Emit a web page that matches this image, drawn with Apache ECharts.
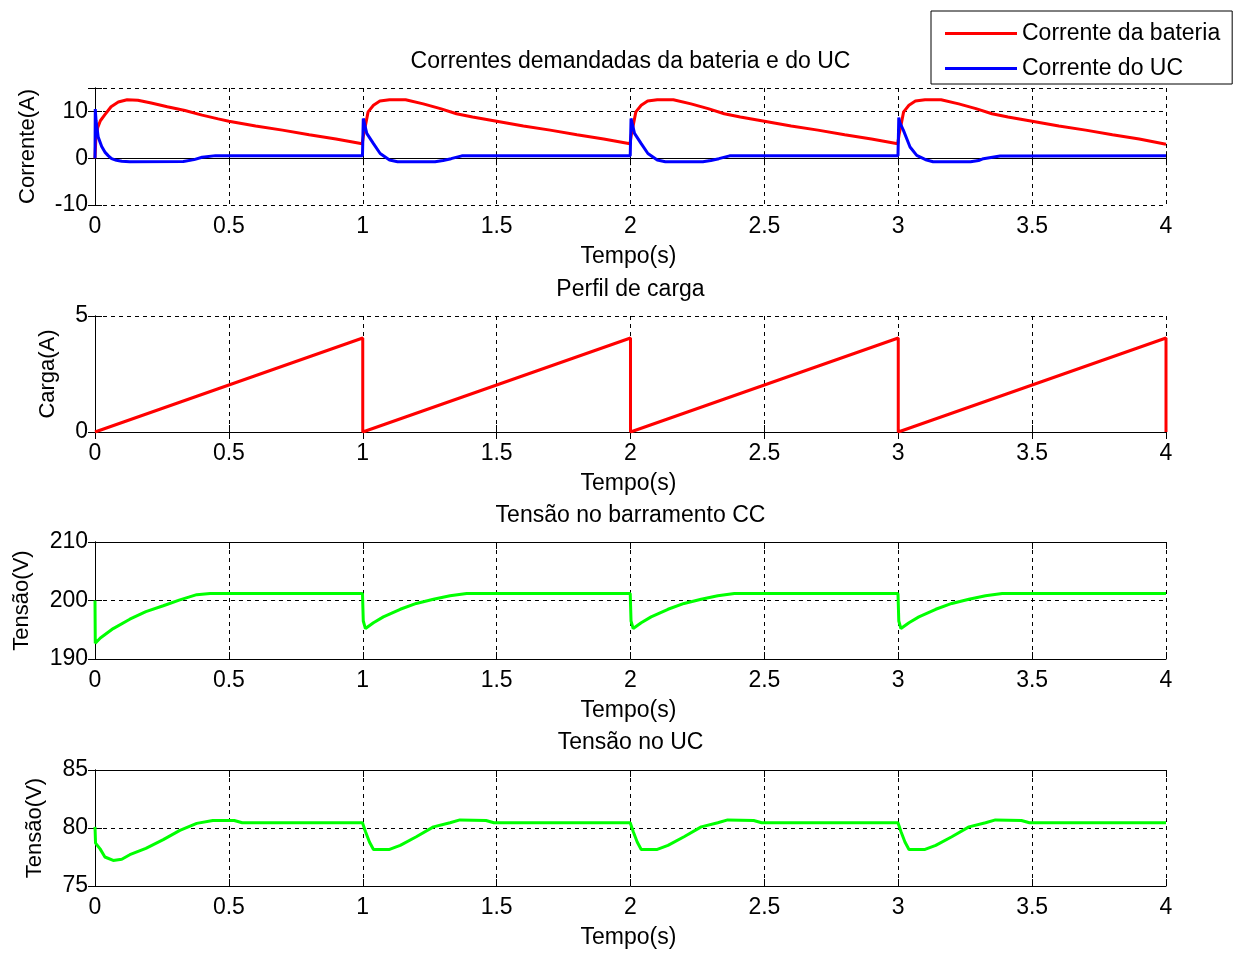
<!DOCTYPE html>
<html>
<head>
<meta charset="utf-8">
<script src="https://cdn.jsdelivr.net/npm/echarts@6/dist/echarts.min.js"></script>
<style>
  html, body { margin: 0; padding: 0; background: #ffffff; }
  #chart { width: 1240px; height: 953px; }
</style>
</head>
<body>
<div id="chart"></div>
<script>
// ---- Data: [time (s), value] pairs ----
const correnteBateria = [
  [0, 0], [0.003, 4.0], [0.01, 6.5], [0.02, 8.0], [0.037, 9.3], [0.06, 11.0], [0.087, 12.0], [0.12, 12.5],
  [0.16, 12.4], [0.21, 11.8], [0.27, 11.0], [0.336, 10.2], [0.4, 9.2], [0.46, 8.4], [0.5, 7.9], [0.6, 6.9],
  [0.7, 6.0], [0.8, 5.0], [0.9, 4.1], [0.998, 3.1],
  [1.003, 5.0], [1.009, 6.7], [1.02, 9.9], [1.04, 11.3], [1.064, 12.2], [1.1, 12.5], [1.16, 12.5],
  [1.226, 11.6], [1.29, 10.6], [1.35, 9.5], [1.41, 8.8], [1.5, 7.9], [1.6, 6.9], [1.7, 6.0], [1.8, 5.0],
  [1.9, 4.1], [1.998, 3.1],
  [2.003, 5.0], [2.009, 6.7], [2.02, 9.9], [2.04, 11.3], [2.064, 12.2], [2.1, 12.5], [2.16, 12.5],
  [2.226, 11.6], [2.29, 10.6], [2.35, 9.5], [2.41, 8.8], [2.5, 7.9], [2.6, 6.9], [2.7, 6.0], [2.8, 5.0],
  [2.9, 4.1], [2.998, 3.1],
  [3.003, 5.0], [3.009, 6.7], [3.02, 9.9], [3.04, 11.3], [3.064, 12.2], [3.1, 12.5], [3.16, 12.5],
  [3.226, 11.6], [3.29, 10.6], [3.35, 9.5], [3.41, 8.8], [3.5, 7.9], [3.6, 6.9], [3.7, 6.0], [3.8, 5.0],
  [3.9, 4.1], [4.0, 3.0]
];

const correnteUC = [
  [0, 0], [0.001, 10.5], [0.004, 8.0], [0.012, 4.5], [0.025, 2.5], [0.037, 1.3], [0.05, 0.5], [0.062, -0.1],
  [0.08, -0.45], [0.1, -0.65], [0.13, -0.75], [0.33, -0.7], [0.37, -0.3], [0.4, 0.2], [0.45, 0.55], [0.999, 0.55],
  [1.002, 8.5], [1.006, 7.5], [1.015, 5.3], [1.04, 3.1], [1.065, 1.0], [1.1, -0.4], [1.13, -0.75], [1.27, -0.75],
  [1.3, -0.5], [1.33, -0.1], [1.37, 0.5], [1.999, 0.55],
  [2.002, 8.5], [2.006, 7.5], [2.015, 5.3], [2.04, 3.1], [2.065, 1.0], [2.1, -0.4], [2.13, -0.75], [2.27, -0.75],
  [2.3, -0.5], [2.33, -0.1], [2.37, 0.5], [2.999, 0.55],
  [3.002, 8.7], [3.006, 7.6], [3.019, 6.0], [3.044, 2.4], [3.069, 0.6], [3.106, -0.4], [3.13, -0.75], [3.27, -0.75],
  [3.3, -0.5], [3.318, -0.1], [3.38, 0.45], [4.0, 0.55]
];

const cargaPerfil = [
  [0, 0], [1, 4.05], [1, 0], [2, 4.05], [2, 0], [3, 4.05], [3, 0], [4, 4.05], [4, 0]
];

const tensaoBarramento = [
  [0, 200], [0.001, 192.7], [0.02, 193.6], [0.068, 195.2], [0.13, 196.8], [0.19, 198.1], [0.255, 199.1],
  [0.317, 200.1], [0.38, 201.0], [0.43, 201.2], [0.999, 201.2],
  [1.002, 196.5], [1.01, 195.2], [1.04, 196.2], [1.077, 197.2], [1.14, 198.5], [1.2, 199.5], [1.264, 200.2],
  [1.326, 200.8], [1.388, 201.2], [1.999, 201.2],
  [2.002, 196.5], [2.01, 195.2], [2.04, 196.2], [2.077, 197.2], [2.14, 198.5], [2.2, 199.5], [2.264, 200.2],
  [2.326, 200.8], [2.388, 201.2], [2.999, 201.2],
  [3.002, 196.5], [3.01, 195.2], [3.04, 196.2], [3.077, 197.2], [3.14, 198.5], [3.2, 199.5], [3.264, 200.2],
  [3.326, 200.8], [3.388, 201.2], [4.0, 201.2]
];

const tensaoUC = [
  [0, 80.1], [0.002, 78.7], [0.019, 78.2], [0.037, 77.5], [0.068, 77.2], [0.1, 77.3], [0.13, 77.7],
  [0.19, 78.25], [0.255, 79.0], [0.317, 79.8], [0.38, 80.4], [0.44, 80.65], [0.52, 80.65], [0.55, 80.45],
  [0.999, 80.45],
  [1.01, 79.7], [1.025, 78.8], [1.04, 78.15], [1.1, 78.15], [1.14, 78.5], [1.2, 79.25], [1.264, 80.1],
  [1.326, 80.45], [1.363, 80.7], [1.46, 80.65], [1.49, 80.45], [1.999, 80.45],
  [2.01, 79.7], [2.025, 78.8], [2.04, 78.15], [2.1, 78.15], [2.14, 78.5], [2.2, 79.25], [2.264, 80.1],
  [2.326, 80.45], [2.363, 80.7], [2.46, 80.65], [2.49, 80.45], [2.999, 80.45],
  [3.01, 79.7], [3.025, 78.8], [3.04, 78.15], [3.1, 78.15], [3.14, 78.5], [3.2, 79.25], [3.264, 80.1],
  [3.326, 80.45], [3.363, 80.7], [3.46, 80.65], [3.49, 80.45], [4.0, 80.45]
];

// ---- Text ----
const titulos = ['Correntes demandadas da bateria e do UC', 'Perfil de carga', 'Tensão no barramento CC', 'Tensão no UC'];
const rotulosY = ['Corrente(A)', 'Carga(A)', 'Tensão(V)', 'Tensão(V)'];
const rotuloX = 'Tempo(s)';
const nomesLegenda = ['Corrente da bateria', 'Corrente do UC'];

// ---- Axis ranges: [min, max, interval] ----
const eixoX = [0, 4, 0.5];
const eixosY = [[-10, 15, 10], [0, 5, 5], [190, 210, 10], [75, 85, 5]];

// ---- Layout ----
const FONT = '"Liberation Sans", Arial, sans-serif';
const FS = 23;
const LEFT = 95, WIDTH = 1071;
const tops = [88, 316, 542, 770];
const heights = [117, 116, 117, 116];
const titleY = [62, 290, 516, 743];
const xNameY = [257, 484, 711, 938];
const yNameX = [28, 48, 22, 35];

const dashed = { show: true, lineStyle: { color: '#000', type: [4, 4], width: 1 } };
const axLine = { show: true, lineStyle: { color: '#000', width: 1 } };
const tickIn = { show: true, inside: true, length: 7, lineStyle: { color: '#000', width: 1 } };

const grids = [], xAxes = [], yAxes = [], graphics = [];
for (let i = 0; i < 4; i++) {
  grids.push({ left: LEFT, top: tops[i], width: WIDTH, height: heights[i], show: false, containLabel: false });
  // bottom axis with labels
  xAxes.push({
    type: 'value', gridIndex: i, min: eixoX[0], max: eixoX[1], interval: eixoX[2], position: 'bottom',
    axisLine: axLine, axisTick: tickIn, splitLine: dashed,
    axisLabel: { color: '#000', fontFamily: FONT, fontSize: FS, margin: 10 }
  });
  // top frame edge
  xAxes.push({
    type: 'value', gridIndex: i, min: eixoX[0], max: eixoX[1], interval: eixoX[2], position: 'top',
    axisLine: axLine, axisTick: tickIn, splitLine: { show: false }, axisLabel: { show: false }
  });
  const [ymin, ymax, yint] = eixosY[i];
  yAxes.push({
    type: 'value', gridIndex: i, min: ymin, max: ymax, interval: yint, position: 'left',
    axisLine: axLine, axisTick: tickIn, splitLine: dashed,
    axisLabel: {
      color: '#000', fontFamily: FONT, fontSize: FS, margin: 7,
      formatter: v => ((v - ymin) % yint === 0 ? String(v) : '')
    }
  });
  // right frame edge
  yAxes.push({
    type: 'value', gridIndex: i, min: ymin, max: ymax, interval: yint, position: 'right',
    axisLine: axLine, axisTick: tickIn, splitLine: { show: false }, axisLabel: { show: false }
  });

  graphics.push({
    type: 'text', x: LEFT + WIDTH / 2, y: titleY[i], z: 10,
    style: { text: titulos[i], fill: '#000', font: FS + 'px ' + FONT, textAlign: 'center', textVerticalAlign: 'middle' }
  });
  graphics.push({
    type: 'text', x: LEFT + WIDTH / 2 - 2, y: xNameY[i], z: 10,
    style: { text: rotuloX, fill: '#000', font: FS + 'px ' + FONT, textAlign: 'center', textVerticalAlign: 'middle' }
  });
  graphics.push({
    type: 'text', x: yNameX[i], y: tops[i] + heights[i] / 2, rotation: Math.PI / 2, z: 10,
    style: { text: rotulosY[i], fill: '#000', font: '22px ' + FONT, textAlign: 'center', textVerticalAlign: 'middle' }
  });
}

function linha(name, data, idx, color) {
  return {
    name, type: 'line', data, xAxisIndex: idx * 2, yAxisIndex: idx * 2,
    showSymbol: false, symbol: 'none', animation: false, clip: true,
    lineStyle: { color, width: 3 }, itemStyle: { color }
  };
}

const chart = echarts.init(document.getElementById('chart'), null, { renderer: 'canvas' });
chart.setOption({
  backgroundColor: '#ffffff',
  animation: false,
  grid: grids,
  xAxis: xAxes,
  yAxis: yAxes,
  legend: {
    data: nomesLegenda, left: 931, top: 11, orient: 'vertical',
    icon: 'rect', itemWidth: 72, itemHeight: 3, itemGap: 12, itemTextGap: 6,
    padding: [11, 12, 4, 14],
    backgroundColor: '#ffffff', borderColor: '#000', borderWidth: 1,
    textStyle: { color: '#000', fontFamily: FONT, fontSize: FS },
    selectedMode: false
  },
  graphic: graphics,
  series: [
    linha(nomesLegenda[0], correnteBateria, 0, '#ff0000'),
    linha(nomesLegenda[1], correnteUC, 0, '#0000ff'),
    linha('Carga', cargaPerfil, 1, '#ff0000'),
    linha('Barramento', tensaoBarramento, 2, '#00ff00'),
    linha('UC', tensaoUC, 3, '#00ff00')
  ]
});
</script>
</body>
</html>
